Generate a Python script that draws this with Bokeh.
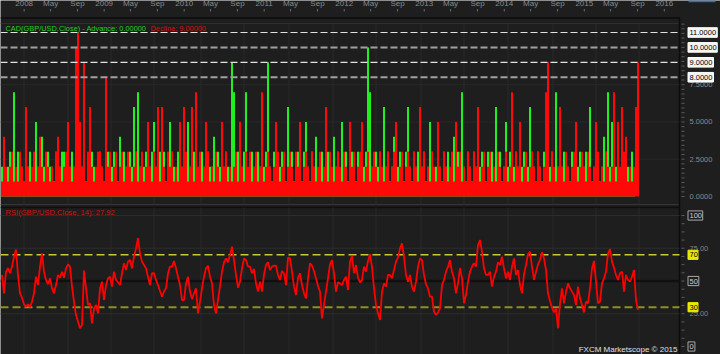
import numpy as np
import pandas as pd
from bokeh.plotting import figure
from bokeh.models import Range1d
from bokeh.core.properties import value
from bokeh.embed import file_html
from bokeh.resources import INLINE

# ---------------- data ----------------
data_start = "2007-09-22"
data_end = "2015-09-03"

# CAD: consecutive advance (green) / decline (red) counts, one column per ~9 days
advance = [
    2, 3, 1, 2, 3, 2, 7, 1, 3, 2, 2, 1, 3, 2, 3, 1, 2, 5, 2, 1,
    4, 2, 1, 3, 2, 2, 1, 3, 1, 2, 3, 3, 2, 1, 2, 3, 2, 1, 2, 1,
    2, 3, 1, 2, 1, 3, 2, 1, 2, 3, 2, 1, 2, 3, 1, 2, 3, 2, 1, 4,
    2, 3, 2, 1, 3, 2, 6, 3, 7, 2, 1, 2, 3, 1, 2, 3, 5, 2, 1, 3,
    2, 3, 1, 2, 5, 3, 2, 1, 3, 2, 2, 3, 1, 5, 2, 1, 3, 2, 1, 2,
    3, 2, 1, 3, 2, 2, 4, 1, 3, 2, 1, 2, 3, 2, 1, 9, 7, 2, 3, 1,
    2, 3, 7, 1, 2, 3, 2, 1, 3, 2, 1, 2, 3, 9, 2, 1, 3, 2, 1, 2,
    3, 2, 1, 6, 2, 3, 1, 2, 3, 2, 1, 3, 5, 2, 1, 3, 2, 4, 1, 2,
    3, 1, 2, 3, 2, 1, 4, 2, 3, 1, 5, 2, 3, 1, 2, 3, 2, 1, 3, 2,
    1, 2, 3, 10, 7, 2, 1, 3, 2, 3, 1, 6, 2, 3, 1, 2, 4, 1, 2, 3,
    2, 1, 3, 6, 2, 1, 3, 2, 3, 1, 2, 3, 1, 2, 5, 3, 1, 2, 3, 2,
    1, 3, 2, 3, 1, 2, 4, 2, 3, 1, 7, 2, 1, 3, 2, 1, 3, 2, 1, 2,
    3, 2, 1, 3, 2, 3, 1, 6, 2, 3, 1, 2, 5, 2, 3, 1, 2, 3, 2, 1,
    2, 3, 1, 2, 6, 3, 2, 1, 3, 2, 1, 3, 2, 1, 2, 3, 1, 7, 2, 1,
    2, 3, 1, 2, 1, 3, 2, 1, 2, 3, 1, 2, 3, 2, 6, 1, 2, 3, 2, 1,
    2, 4, 3, 7, 2, 5, 1, 2, 3, 1, 2, 1, 3, 2, 1, 3, 1, 0, 0,
]
decline = [
    1, 4, 2, 1, 2, 3, 1, 2, 1, 3, 2, 1, 6, 2, 1, 2, 3, 1, 2, 4,
    2, 1, 3, 2, 1, 2, 1, 3, 4, 2, 1, 2, 3, 5, 2, 1, 2, 10, 11, 5,
    2, 9, 1, 3, 6, 2, 1, 2, 3, 3, 2, 1, 8, 2, 3, 1, 2, 3, 1, 2,
    3, 1, 2, 3, 2, 1, 2, 3, 1, 2, 3, 1, 2, 5, 2, 1, 3, 2, 6, 1,
    6, 2, 1, 3, 2, 3, 1, 2, 1, 5, 2, 6, 3, 1, 2, 6, 1, 7, 2, 3,
    1, 2, 5, 3, 1, 2, 1, 3, 2, 1, 5, 2, 3, 1, 2, 1, 2, 3, 1, 5,
    2, 1, 3, 2, 3, 1, 2, 3, 1, 2, 7, 1, 2, 3, 2, 1, 2, 5, 3, 1,
    2, 3, 1, 2, 3, 2, 1, 3, 2, 5, 1, 2, 3, 2, 1, 3, 2, 1, 2, 3,
    1, 2, 6, 1, 3, 2, 1, 2, 3, 2, 1, 3, 2, 1, 5, 2, 3, 1, 2, 3,
    5, 1, 2, 3, 1, 2, 3, 2, 1, 3, 2, 1, 2, 3, 1, 2, 3, 5, 1, 2,
    3, 1, 2, 3, 2, 1, 3, 2, 1, 6, 2, 3, 1, 2, 1, 3, 2, 1, 5, 2,
    1, 3, 2, 1, 2, 3, 1, 5, 2, 3, 1, 2, 1, 3, 2, 1, 3, 2, 6, 1,
    2, 3, 1, 2, 3, 1, 2, 1, 3, 2, 1, 2, 3, 1, 2, 7, 1, 3, 2, 5,
    1, 2, 3, 1, 2, 3, 2, 1, 3, 2, 1, 2, 7, 9, 1, 3, 2, 1, 2, 6,
    2, 1, 3, 2, 1, 2, 3, 5, 1, 2, 3, 2, 1, 3, 2, 1, 2, 5, 3, 1,
    2, 1, 3, 2, 1, 2, 7, 1, 5, 2, 6, 3, 4, 1, 2, 1, 2, 6, 9,
]

# RSI(GBP/USD.Close, 14)
rsi_values = [
    54.6, 40.6, 57.1, 59.7, 55.9, 61.0, 68.6, 74.0, 54.6, 40.6,
    37.3, 32.2, 30.4, 32.2, 30.1, 34.2, 40.6, 53.3, 46.9, 61.0,
    71.1, 57.1, 50.8, 47.5, 52.0, 44.4, 40.6, 46.9, 54.6, 52.5,
    57.1, 52.5, 59.7, 62.7, 61.0, 45.7, 34.2, 24.0, 19.0, 13.9,
    16.4, 58.0, 44.4, 31.7, 33.0, 17.7, 29.1, 31.7, 25.3, 44.4,
    49.5, 35.5, 46.9, 52.0, 53.3, 45.7, 57.1, 50.8, 49.0, 46.9,
    55.9, 63.5, 58.4, 64.8, 66.0, 59.7, 68.6, 74.9, 82.6, 71.1,
    64.8, 62.2, 59.7, 53.3, 46.9, 55.9, 55.9, 50.8, 46.9, 42.4,
    38.0, 41.9, 44.4, 55.9, 61.0, 61.0, 65.3, 59.7, 53.3, 46.9,
    35.5, 35.5, 48.2, 53.3, 41.9, 36.3, 40.6, 44.4, 25.3, 34.2,
    44.4, 53.3, 59.7, 61.7, 53.3, 48.2, 31.7, 25.3, 35.5, 45.7,
    57.1, 64.3, 67.3, 64.3, 69.9, 76.2, 66.0, 54.6, 44.9, 49.5,
    59.7, 67.3, 66.0, 61.0, 61.0, 55.9, 59.2, 48.2, 41.9, 49.5,
    41.9, 55.1, 62.2, 64.3, 58.4, 61.0, 61.7, 61.7, 54.6, 50.8,
    57.6, 55.9, 46.9, 67.8, 67.3, 57.1, 45.7, 39.3, 52.5, 55.9,
    46.9, 40.6, 36.8, 52.0, 63.5, 61.7, 57.6, 52.0, 46.2, 41.9,
    21.5, 31.7, 41.9, 52.0, 62.7, 66.0, 55.9, 41.9, 49.0, 48.2,
    46.9, 50.8, 53.3, 43.1, 64.8, 69.3, 55.9, 62.2, 52.5, 49.0,
    50.8, 61.0, 57.1, 65.3, 70.4, 61.0, 44.4, 31.7, 25.3, 20.2,
    41.9, 48.2, 45.7, 54.6, 54.6, 52.0, 58.4, 64.8, 67.8, 74.9,
    78.8, 68.6, 54.6, 49.5, 54.6, 45.7, 41.9, 49.5, 61.0, 67.3,
    66.0, 54.6, 47.5, 44.4, 38.0, 38.0, 26.6, 24.0, 26.0, 29.1,
    46.9, 50.8, 57.1, 61.0, 66.0, 57.1, 52.0, 40.6, 48.2, 59.7,
    52.0, 33.0, 39.3, 49.5, 57.1, 61.0, 63.5, 61.0, 77.5, 81.3,
    72.4, 59.7, 54.6, 54.6, 57.1, 45.7, 53.3, 57.1, 64.3, 62.2,
    68.6, 59.7, 52.0, 57.1, 50.8, 61.0, 67.3, 54.6, 58.4, 46.9,
    40.6, 55.1, 62.2, 70.4, 72.4, 61.0, 50.8, 57.1, 62.7, 66.0,
    71.9, 67.3, 58.4, 40.6, 34.7, 29.6, 26.0, 29.1, 13.9, 33.0,
    44.4, 33.0, 41.9, 48.2, 44.4, 41.9, 39.3, 31.7, 45.7, 36.8,
    31.7, 26.0, 34.2, 33.0, 44.4, 59.7, 65.3, 49.5, 33.0, 34.2,
    48.2, 52.0, 57.1, 71.1, 74.4, 64.8, 60.2, 54.6, 50.8, 55.9,
    57.1, 41.9, 54.6, 50.8, 49.5, 53.3, 58.4, 35.5, 27.92,
]

time_tick_labels = ["2008", "May", "Sep", "2009", "May", "Sep", "2010", "May", "Sep",
                    "2011", "May", "Sep", "2012", "May", "Sep", "2013", "May", "Sep",
                    "2014", "May", "Sep", "2015", "May", "Sep", "2016"]
time_tick_dates = ["2008-01-01", "2008-05-01", "2008-09-01", "2009-01-01", "2009-05-01", "2009-09-01",
                   "2010-01-01", "2010-05-01", "2010-09-01", "2011-01-01", "2011-05-01", "2011-09-01",
                   "2012-01-01", "2012-05-01", "2012-09-01", "2013-01-01", "2013-05-01", "2013-09-01",
                   "2014-01-01", "2014-05-01", "2014-09-01", "2015-01-01", "2015-05-01", "2015-09-01",
                   "2016-01-01"]

cad_alert_levels = [11, 10, 9, 8]
cad_alert_labels = ["11.0000", "10.0000", "9.0000", "8.0000"]
cad_ticks = [0, 2.5, 5, 7.5]
cad_tick_labels = ["0.0000", "2.5000", "5.0000", "7.5000"]
rsi_levels = [70, 30]
rsi_level_labels = ["70", "30"]
rsi_ticks_plain = [75, 25]
rsi_ticks_plain_labels = ["75.00", "25.00"]
rsi_ticks_boxed = [100, 50, 0]
rsi_ticks_boxed_labels = ["100", "50", "0"]

cad_title = "CAD(GBP/USD.Close) -  Advance: 0.00000"
cad_title2 = "Decline: 9.00000"
rsi_title = "RSI(GBP/USD.Close, 14): 27.92"
copyright_text = "FXCM Marketscope \u00a9 2015"

# ---------------- layout helpers ----------------
W, H = 720, 354


def year_frac(d):
    t = pd.Timestamp(d)
    days = 366 if t.is_leap_year else 365
    return t.year + (t.dayofyear - 1) / days


n = len(rsi_values)
x_first, x_last = year_frac(data_start), year_frac(data_end)
COL_PX = 2.0                                    # one data column every 2 screen pixels
PX_PER_YEAR = COL_PX * (n - 1) / (x_last - x_first)
X_START = x_first - (COL_PX / 2 + 0.5) / PX_PER_YEAR


def xp(px):
    return X_START + px / PX_PER_YEAR


# CAD panel: 0 at y=196px, 11 at y=32px ; RSI panel: 0 at y=346px, 100 at y=215px
cad_unit = (196 - 32) / 11.0
rsi_unit = (346 - 215) / 100.0
cad_range = Range1d(-(H - 196) / cad_unit, 196 / cad_unit)
rsi_range = Range1d(-(H - 346) / rsi_unit, 346 / rsi_unit)

BG = "#1e1e1e"
FONT = value("Liberation Sans")

p = figure(width=W, height=H, x_range=Range1d(xp(0), xp(W)), y_range=Range1d(H, 0),
           output_backend="svg", toolbar_location=None, min_border=0,
           x_axis_location=None, y_axis_location=None,
           background_fill_color=BG, border_fill_color=BG, outline_line_color=None)
p.grid.grid_line_color = None
p.extra_y_ranges = {"cad": cad_range, "rsi": rsi_range}

xs = np.linspace(x_first, x_last, n)
col_w = COL_PX / PX_PER_YEAR

PLOT_R = 679
# ---- panel structure ----
p.segment(x0=[xp(0)], x1=[xp(PLOT_R)], y0=[17.5], y1=[17.5], line_color="#0c0c0c", line_width=1.5)
p.segment(x0=[xp(0)], x1=[xp(PLOT_R)], y0=[23], y1=[23], line_color="#2e2e2e", line_width=1)
p.segment(x0=[xp(0)], x1=[xp(PLOT_R)], y0=[204], y1=[204], line_color="#363636", line_width=1)
p.segment(x0=[xp(0)], x1=[xp(PLOT_R)], y0=[207], y1=[207], line_color="#0e0e0e", line_width=1.5)
p.segment(x0=[xp(PLOT_R)], x1=[xp(PLOT_R)], y0=[17], y1=[H], line_color="#0c0c0c", line_width=1.5)

grid_px = [23, 67, 110, 153, 200, 243, 288, 332, 375, 420, 463, 507, 552, 595, 638]
gx = [xp(g + 0.5) for g in grid_px]
p.segment(x0=gx, x1=gx, y0=[23] * len(gx), y1=[204] * len(gx), line_color="#292929", line_width=1)
p.segment(x0=gx, x1=gx, y0=[207] * len(gx), y1=[H] * len(gx), line_color="#292929", line_width=1)

# horizontal grid
p.segment(x0=[xp(0)] * 3, x1=[xp(PLOT_R)] * 3, y0=cad_ticks[1:], y1=cad_ticks[1:],
          line_color="#292929", line_width=1, y_range_name="cad")
p.segment(x0=[xp(0)] * 3, x1=[xp(PLOT_R)] * 3, y0=[25, 75, 100], y1=[25, 75, 100],
          line_color="#2c2c2c", line_width=1, y_range_name="rsi")
p.segment(x0=[xp(0)], x1=[xp(PLOT_R)], y0=[50], y1=[50],
          line_color="#101010", line_width=2.5, y_range_name="rsi")

# ---- CAD bars: advance (green) underneath, decline (red) drawn over it, pixel aligned ----
p.vbar(x=xs, top=advance, bottom=0, width=col_w, fill_color="#1ef01e",
       line_color=None, y_range_name="cad")
p.vbar(x=xs, top=decline, bottom=0, width=col_w, fill_color="#ff0808",
       line_color=None, y_range_name="cad")

# alert lines
alert_colors = ["#e2e2e2", "#a0a0a0", "#e2e2e2", "#a0a0a0"]
alert_widths = [1.2, 2, 1.2, 2]
for lv, c, w in zip(cad_alert_levels, alert_colors, alert_widths):
    p.segment(x0=[xp(0)], x1=[xp(PLOT_R)], y0=[lv], y1=[lv], line_color=c, line_width=w,
              line_dash="7 3", y_range_name="cad")

# ---- RSI ----
p.segment(x0=[xp(0)], x1=[xp(PLOT_R)], y0=[70], y1=[70], line_color="#c9c935", line_width=1.5,
          line_dash="8 4", y_range_name="rsi")
p.segment(x0=[xp(0)], x1=[xp(PLOT_R)], y0=[30], y1=[30], line_color="#8f8f2a", line_width=2,
          line_dash="8 4", y_range_name="rsi")
p.line(x=xs, y=rsi_values, line_color="#ff0000", line_width=1.8, y_range_name="rsi")

# ---- top time axis ----
tx = [year_frac(d) for d in time_tick_dates]
p.text(x=tx, y=[3] * len(tx), text=time_tick_labels, text_color="#8a8a8a", text_font=FONT,
       text_font_size="8px", text_align="center", text_baseline="middle")
p.segment(x0=tx, x1=tx, y0=[8.5] * len(tx), y1=[11] * len(tx), line_color="#6a6a6a", line_width=1)

# blue marker at top right
p.quad(left=[xp(688)], right=[xp(715)], top=[0], bottom=[1.8], fill_color="#2a6db8", line_color=None)

# ---- right axis: CAD ----
ax0, ax1 = xp(PLOT_R + 2), xp(PLOT_R + 5)
cad_minor = [i * 0.3125 for i in range(0, 38)]
p.segment(x0=[ax0] * len(cad_minor), x1=[ax1] * len(cad_minor), y0=cad_minor, y1=cad_minor,
          line_color="#5a5a5a", line_width=1, y_range_name="cad")
p.text(x=[xp(689)] * len(cad_ticks), y=cad_ticks, text=cad_tick_labels, text_color="#8a8a8a",
       text_font=FONT, text_font_size="7.5px", text_baseline="middle", y_range_name="cad")
box_half = 4.8 / cad_unit
box_right = [xp(689 + 3.75 * len(s) + 1.5) for s in cad_alert_labels]
p.quad(left=[xp(687.5)] * 4, right=box_right,
       top=[v + box_half for v in cad_alert_levels], bottom=[v - box_half for v in cad_alert_levels],
       fill_color="#f4f4f4", line_color="#ffffff", y_range_name="cad")
p.text(x=[xp(689)] * 4, y=cad_alert_levels, text=cad_alert_labels, text_color="#000000",
       text_font=FONT, text_font_size="7.5px", text_baseline="middle", y_range_name="cad")

# ---- right axis: RSI ----
rsi_minor = [i * 6.25 for i in range(0, 17)]
p.segment(x0=[ax0] * len(rsi_minor), x1=[ax1] * len(rsi_minor), y0=rsi_minor, y1=rsi_minor,
          line_color="#5a5a5a", line_width=1, y_range_name="rsi")
p.text(x=[xp(689)] * 2, y=rsi_ticks_plain, text=rsi_ticks_plain_labels, text_color="#808080",
       text_font=FONT, text_font_size="7.5px", text_baseline="middle", y_range_name="rsi")
rbh = 4.6 / rsi_unit
p.quad(left=[xp(687.5)] * 3, right=[xp(689 + 3.9 * len(s) + 1.5) for s in rsi_ticks_boxed_labels],
       top=[v + rbh for v in rsi_ticks_boxed], bottom=[v - rbh for v in rsi_ticks_boxed],
       fill_color=BG, line_color="#a8a8a8", y_range_name="rsi")
p.text(x=[xp(689)] * 3, y=rsi_ticks_boxed, text=rsi_ticks_boxed_labels, text_color="#cfcfcf",
       text_font=FONT, text_font_size="7.5px", text_baseline="middle", y_range_name="rsi")
p.quad(left=[xp(687.5)] * 2, right=[xp(697.5)] * 2,
       top=[v + rbh for v in rsi_levels], bottom=[v - rbh for v in rsi_levels],
       fill_color="#e8e800", line_color="#e8e800", y_range_name="rsi")
p.text(x=[xp(689)] * 2, y=rsi_levels, text=rsi_level_labels, text_color="#000000",
       text_font=FONT, text_font_size="7.5px", text_baseline="middle", y_range_name="rsi")

# ---- titles ----
p.text(x=[xp(5)], y=[27.5], text=[cad_title], text_color="#1ed21e", text_font=FONT,
       text_font_size="7.4px", text_baseline="middle")
p.text(x=[xp(150)], y=[27.5], text=[cad_title2], text_color="#d01010", text_font=FONT,
       text_font_size="7.4px", text_baseline="middle")
p.text(x=[xp(5)], y=[212], text=[rsi_title], text_color="#d01010", text_font=FONT,
       text_font_size="7.6px", text_baseline="middle")
p.text(x=[xp(677)], y=[349], text=[copyright_text], text_color="#e0e0e0", text_font=FONT,
       text_font_size="8px", text_align="right", text_baseline="middle")

open("out.html", "w").write(file_html(p, INLINE))
